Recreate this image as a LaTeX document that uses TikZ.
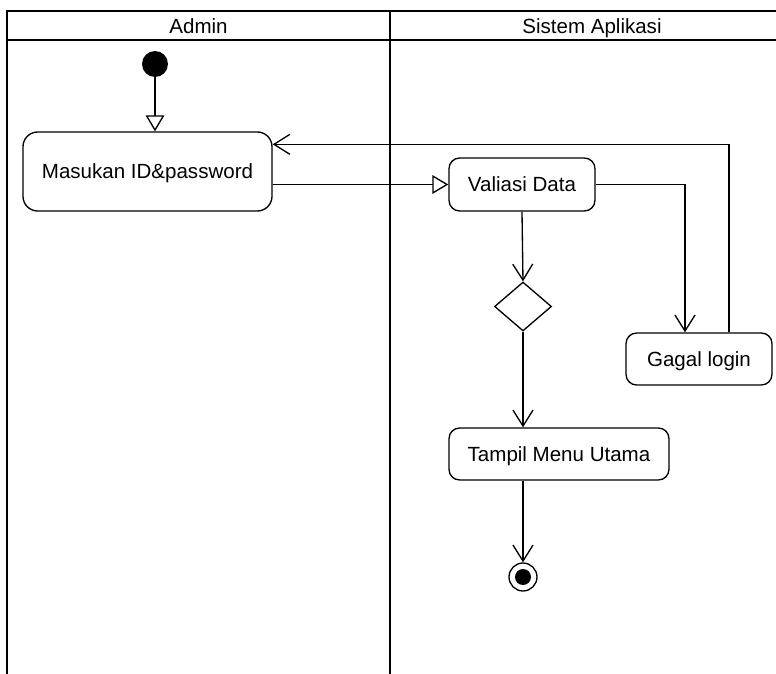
\documentclass[tikz,border=0pt]{standalone}
\usepackage{fontspec}
\setmainfont{Liberation Sans}
\usetikzlibrary{arrows.meta,shapes.geometric}

\begin{document}
\begin{tikzpicture}[x=0.75pt, y=-0.75pt,
	every node/.style={font=\fontsize{15.4}{18}\selectfont, text depth=0pt},
	activity/.style={draw, line width=1pt, rounded corners=8pt, inner sep=0pt, align=center},
	flow/.style={line width=1pt, -{Straight Barb[length=12pt, width=15pt]}},
	openflow/.style={line width=1pt, -{Triangle[open, length=12pt, width=14pt]}}]
	\useasboundingbox (0,0) rectangle (776,674);
	% lanes
	\draw[line width=1.1pt] (7,674) -- (7,11) -- (776,11);
	\draw[line width=1.1pt] (7,40) -- (776,40);
	\draw[line width=2pt] (390,11) -- (390,674);
	\node (admin) at (198.5,26.5) {Admin};
	\node (sistem) at (592,26.5) {Sistem Aplikasi};
	% activities
	\node[circle, fill, inner sep=0pt, minimum size=19.5pt] (start) at (155,64) {};
	\node[activity, rounded corners=11pt, minimum width=186.75pt, minimum height=59.25pt] (masukan) at (147.5,171.5) {Masukan ID\&password};
	\node[activity, minimum width=109.5pt, minimum height=39.75pt] (valiasi) at (522,184.5) {Valiasi Data};
	\node[diamond, draw, line width=1pt, inner sep=0pt, minimum width=42.75pt, minimum height=36.75pt] (decision) at (523,306.5) {};
	\node[activity, minimum width=109.5pt, minimum height=39pt] (gagal) at (699,359) {Gagal login};
	\node[activity, minimum width=165pt, minimum height=39pt] (tampil) at (559,454) {Tampil Menu Utama};
	\node[circle, draw, line width=1pt, inner sep=0pt, minimum size=21pt] (end) at (523,577) {};
	\fill (end) circle [radius=6pt];
	% flows
	\draw[openflow] (start) -- (start |- masukan.north);
	\draw[openflow] (masukan.east |- valiasi.west) -- (valiasi.west);
	\draw[flow] (valiasi.south) -- (decision.north);
	\draw[flow] (valiasi.east) -| ([xshift=-10.5pt]gagal.north);
	\draw[flow] ([xshift=22.5pt]gagal.north) |- ([yshift=-9.75pt]masukan.north east);
	\draw[flow] (decision.south) -- (decision.south |- tampil.north);
	\draw[flow] (decision.south |- tampil.south) -- (end);
\end{tikzpicture}
\end{document}
